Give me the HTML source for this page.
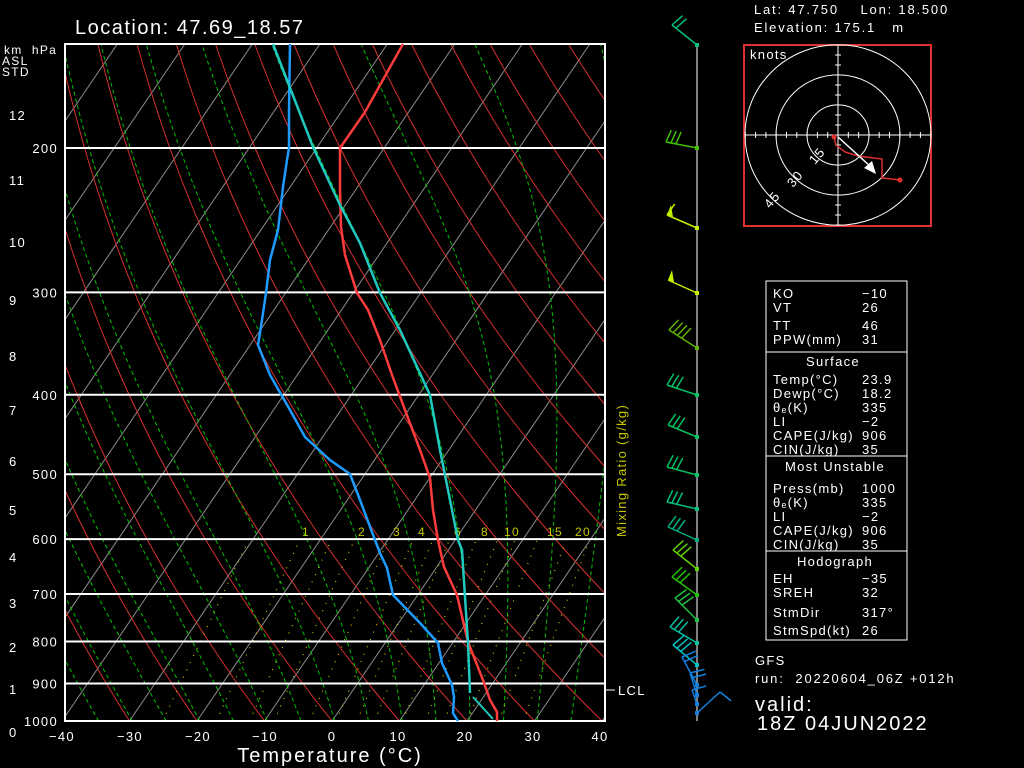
<!DOCTYPE html>
<html><head><meta charset="utf-8"><style>
html,body{margin:0;padding:0;background:#000;width:1024px;height:768px;overflow:hidden}
svg{display:block}
text{font-family:"Liberation Sans",sans-serif;fill:#fff;letter-spacing:1.3px;white-space:pre}
</style></head><body>
<svg id="s" width="1024" height="768" viewBox="0 0 1024 768" xmlns="http://www.w3.org/2000/svg">
<defs><clipPath id="c"><rect x="65" y="44" width="540" height="677"/></clipPath></defs>
<g id="bg" clip-path="url(#c)"></g>
<g id="fg"></g>
</svg>
<script>
var NS="http://www.w3.org/2000/svg";
function el(t,a,p,txt){var e=document.createElementNS(NS,t);for(var k in a)e.setAttribute(k,a[k]);if(txt!=null)e.textContent=txt;(p||document.getElementById('fg')).appendChild(e);return e;}
var bg=document.getElementById('bg');
function X(T,y){return 332+6.75*T+0.68*(721-y);}
function Y(p){return 721-356*Math.log(1000/p);}
function P(y){return 1000*Math.exp(-(721-y)/356);}
for(var T=-160;T<=50;T+=10){el('line',{x1:X(T,721),y1:721,x2:X(T,44),y2:44,stroke:'#8c8c8c','stroke-width':1},bg);}
for(var tb=-60;tb<=200;tb+=10){var th=273.15+tb,pts=[];for(var y=721;y>=44;y-=4){var p=P(y);var t=th*Math.pow(p/1000,0.2857)-273.15;pts.push(X(t,y).toFixed(1)+','+y);}
el('polyline',{points:pts.join(' '),fill:'none',stroke:'#d83030','stroke-width':1},bg);}
function es(tc){return 6.112*Math.exp(17.67*tc/(tc+243.5));}
for(var tb=-45;tb<=45;tb+=5){var t=273.15+tb+0.4,pts=[],p=1000;for(var y=721;y>=44;y-=1){var p2=P(y-1);var tc=t-273.15;var e=es(tc);var rs=0.622*e/(p-e);var dTdp=(287*t+2.5e6*rs)/(1005+2.5e6*2.5e6*rs*0.622/(287*t*t))/p;
if(y%4==1)pts.push(X(tc,y).toFixed(1)+','+y);t+=dTdp*(p2-p);p=p2;}
el('polyline',{points:pts.join(' '),fill:'none',stroke:'#00c000','stroke-width':1,'stroke-dasharray':'4,3'},bg);}
var ws=[0.5,1,1.5,2,3,4,5,6,8,10,12,15,20,25];
function td(w,p){var e=w*p/(622+w);var l=Math.log(e/6.112);return 243.5*l/(17.67-l);}
ws.forEach(function(w){var pts=[];for(var y=721;y>=540;y-=4){pts.push(X(td(w,P(y)),y).toFixed(1)+','+y);}
el('polyline',{points:pts.join(' '),fill:'none',stroke:'#c8c800','stroke-width':1.2,'stroke-dasharray':'1,7'},bg);});
var lab={1:306,2:362,3:397,4:422,6:458,8:485,10:512,15:555,20:583};
for(var k in lab)el('text',{x:lab[k],y:536,'font-size':12,'text-anchor':'middle',style:'fill:#c8c800'},null,k);
[1000,900,800,700,600,500,400,300,200].forEach(function(p){el('line',{x1:65,x2:605,y1:Y(p),y2:Y(p),stroke:'#fff','stroke-width':2});
el('text',{x:58,y:Y(p)+5,'font-size':13,'text-anchor':'end'},null,p);});
el('rect',{x:65,y:44,width:540,height:677,fill:'none',stroke:'#fff','stroke-width':2});
el('polyline',{points:'497,721 497,712 490,700 483,680 468,642 457,595 444,567 438,540 433,510 430,478 420,450 405,410 392,375 380,340 368,310 357,293 345,255 341,227 340,190 340,148 365,112 403,44',fill:'none',stroke:'#ff3c3c','stroke-width':2.5});
el('polyline',{points:'458,721 453,713 454,697 452,685 442,663 438,643 420,623 393,595 387,568 380,553 375,540 360,500 350,474 330,460 305,437 290,410 270,375 258,345 262,320 266,293 270,260 278,230 283,187 287,160 289,148 289,110 290,44',fill:'none',stroke:'#1e9bff','stroke-width':2.5});
el('polyline',{points:'493,719 473,697',fill:'none',stroke:'#20c8c0','stroke-width':2});
el('polyline',{points:'470,693 468,643 465,597 462,550 458,540 450,500 440,450 430,395 400,330 380,293 360,243 340,205 313,147 273,44',fill:'none',stroke:'#20c8c0','stroke-width':2.5});
[[-40,62],[-30,130],[-20,198],[-10,265],[0,332],[10,398],[20,465],[30,533],[40,600]].forEach(function(a){el('text',{x:a[1],y:741,'font-size':13,'text-anchor':'middle'},null,a[0]==0?'0':(a[0]<0?'\u2212'+(-a[0]):a[0]));});
el('text',{x:330,y:762,'font-size':20,'text-anchor':'middle',style:'letter-spacing:2px'},null,'Temperature (\u00b0C)');
el('text',{x:75,y:34,'font-size':20,style:'letter-spacing:1.5px'},null,'Location: 47.69_18.57');
el('text',{x:4,y:54,'font-size':12},null,'km  hPa');
el('text',{x:2,y:65,'font-size':12},null,'ASL');
el('text',{x:2,y:76,'font-size':12},null,'STD');
[[12,120],[11,185],[10,247],[9,305],[8,361],[7,415],[6,466],[5,515],[4,562],[3,608],[2,652],[1,694],[0,737]].forEach(function(a){el('text',{x:9,y:a[1],'font-size':13},null,a[0]);});
el('text',{x:0,y:0,'font-size':13,transform:'translate(626,537) rotate(-90)',style:'fill:#c8c800'},null,'Mixing Ratio (g/kg)');
el('line',{x1:605,x2:615,y1:690,y2:690,stroke:'#fff'});
el('text',{x:618,y:695,'font-size':13},null,'LCL');
el('line',{x1:697,x2:697,y1:44,y2:721,stroke:'#aaa','stroke-width':1.5});
var barbs=[[45,672,25,'#00c080',2],[148,666,142,'#40c000',3],[228,667,215,'#c0f000',1],[293,668,280,'#c0f000',0],[348,669,330,'#60b000',4],
[395,667,385,'#00c060',3],[437,668,425,'#00c060',3],[475,667,467,'#00c060',3],[509,667,502,'#00c080',3],[540,668,527,'#00b080',3],[569,673,550,'#60d000',3],[595,672,577,'#20c000',3],[620,675,598,'#20c040',3],[643,670,627,'#00c0a0',3],[665,673,645,'#00c0c0',3],[685,682,657,'#1080e0',2],[695,690,673,'#1080e0',2],[704,692,690,'#1080e0',1],[713,720,692,'#1080e0',1]];
barbs.forEach(function(b){el('line',{x1:697,y1:b[0],x2:b[1],y2:b[2],stroke:b[3],'stroke-width':1.5});
var dx=697-b[1],dy=b[0]-b[2],L=Math.sqrt(dx*dx+dy*dy),ux=dx/L,uy=dy/L;
for(var i=0;i<b[4];i++){var sx=b[1]+ux*i*5,sy=b[2]+uy*i*5;el('line',{x1:sx,y1:sy,x2:sx+uy*12+3,y2:sy-ux*12,stroke:b[3],'stroke-width':1.5});}
if(b[0]==228||b[0]==293)el('polygon',{points:(b[1])+','+(b[2])+' '+(b[1]+6)+','+(b[2]+2)+' '+(b[1]+4)+','+(b[2]-10),fill:b[3]});
el('rect',{x:695,y:b[0]-2,width:4,height:4,fill:b[3]});});
el('text',{x:754,y:14,'font-size':13,style:'letter-spacing:1.8px'},null,'Lat: 47.750    Lon: 18.500');
el('text',{x:754,y:32,'font-size':13,style:'letter-spacing:1.8px'},null,'Elevation: 175.1   m');
el('rect',{x:744,y:45,width:187,height:181,fill:'none',stroke:'#e03030','stroke-width':2});
var hg=el('g',{});
[31,62,93].forEach(function(r){el('ellipse',{cx:838,cy:135,rx:r,ry:r*0.97,fill:'none',stroke:'#fff','stroke-width':1},hg);});
el('line',{x1:745,x2:930,y1:135,y2:135,stroke:'#fff'},hg);el('line',{x1:838,x2:838,y1:46,y2:225,stroke:'#fff'},hg);
for(var i=-9;i<=9;i++){if(i==0)continue;el('line',{x1:838+i*10.3,x2:838+i*10.3,y1:132,y2:138,stroke:'#fff'},hg);el('line',{y1:135+i*10,y2:135+i*10,x1:835,x2:841,stroke:'#fff'},hg);}
el('text',{x:750,y:59,'font-size':13},null,'knots');
el('text',{x:0,y:0,'font-size':13,transform:'translate(815,165) rotate(-50)'},null,'15');
el('text',{x:0,y:0,'font-size':13,transform:'translate(793,188) rotate(-50)'},null,'30');
el('text',{x:0,y:0,'font-size':13,transform:'translate(770,209) rotate(-50)'},null,'45');
el('polyline',{points:'834,137 836,145 845,152 858,156 882,159 882,178 900,180',fill:'none',stroke:'#e03030','stroke-width':1.5});
el('circle',{cx:834,cy:137,r:2.5,fill:'#e03030'});el('circle',{cx:900,cy:180,r:2.5,fill:'#e03030'});
el('line',{x1:838,y1:137,x2:870,y2:166,stroke:'#fff','stroke-width':1.5});
el('polygon',{points:'876,174 864,168 872,161',fill:'#fff'});
el('rect',{x:766,y:281,width:141,height:359,fill:'none',stroke:'#fff','stroke-width':1});
[352,456,551].forEach(function(y){el('line',{x1:766,x2:907,y1:y,y2:y,stroke:'#fff'});});
var rows=[['KO','\u221210',298],['VT','26',312],['TT','46',330],['PPW(mm)','31',344],
['Temp(\u00b0C)','23.9',384],['Dewp(\u00b0C)','18.2',398],['\u03b8\u2091(K)','335',412],['LI','\u22122',426],['CAPE(J/kg)','906',440],['CIN(J/kg)','35',454],
['Press(mb)','1000',493],['\u03b8\u2091(K)','335',507],['LI','\u22122',521],['CAPE(J/kg)','906',535],['CIN(J/kg)','35',549],
['EH','\u221235',583],['SREH','32',597],['StmDir','317\u00b0',617],['StmSpd(kt)','26',635]];
rows.forEach(function(r){el('text',{x:773,y:r[2],'font-size':13},null,r[0]);el('text',{x:862,y:r[2],'font-size':13},null,r[1]);});
el('text',{x:833,y:366,'font-size':13,'text-anchor':'middle'},null,'Surface');
el('text',{x:835,y:471,'font-size':13,'text-anchor':'middle'},null,'Most Unstable');
el('text',{x:835,y:566,'font-size':13,'text-anchor':'middle'},null,'Hodograph');
el('text',{x:755,y:665,'font-size':13},null,'GFS');
el('text',{x:755,y:683,'font-size':13,style:'letter-spacing:1.8px'},null,'run:  20220604_06Z +012h');
el('text',{x:755,y:711,'font-size':20,style:'letter-spacing:2px'},null,'valid:');
el('text',{x:757,y:730,'font-size':20,style:'letter-spacing:2px'},null,'18Z 04JUN2022');
</script>
</body></html>
